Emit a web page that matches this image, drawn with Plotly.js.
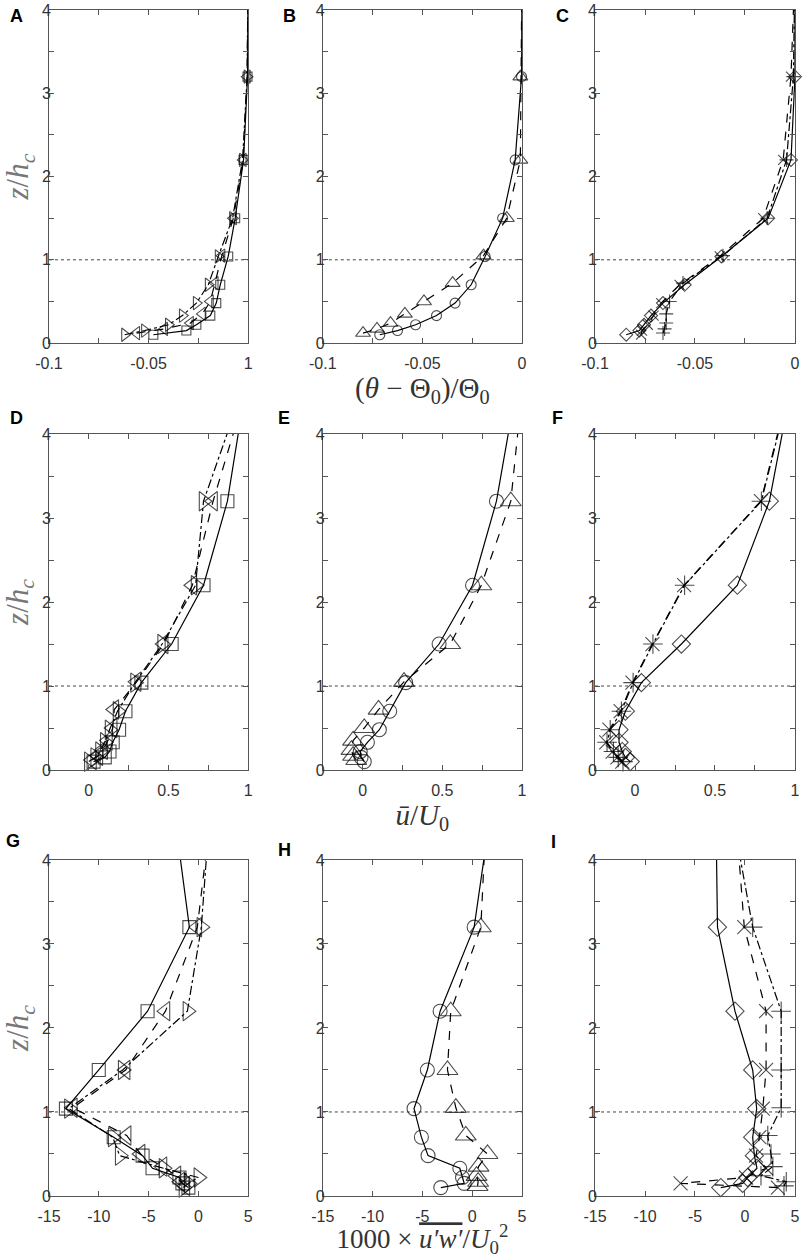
<!DOCTYPE html>
<html>
<head>
<meta charset="utf-8">
<script src="https://cdn.plot.ly/plotly-3.0.1.min.js"></script>
<style>
	html, body { margin: 0; padding: 0; background: #fff; }
	#chart { width: 803px; height: 1258px; }
</style>
</head>
<body>
<div id="chart"></div>
<script>
// sampling heights z/h_c (the last one lies above the plotted range, lines run off the top)
const zMain = [0.1, 0.15, 0.22, 0.33, 0.48, 0.7, 1.04, 1.5, 2.2, 3.2, 4.5]
const zAlt = [0.12, 0.17, 0.24, 0.35, 0.5, 0.72, 1.05, 1.5, 2.2, 3.2, 4.5]
const canopyTop = 1

// row 1 : (theta - Theta0)/Theta0
const thetaA_sq = [-0.0476, -0.031, -0.026, -0.019, -0.016, -0.014, -0.010, -0.0065, -0.0023, -0.0003, 0]
const thetaA_tl = [-0.056, -0.042, -0.029, -0.023, -0.019, -0.0166, -0.0132, -0.0074, -0.0025, -0.0005, 0]
const thetaA_tr = [-0.062, -0.052, -0.040, -0.033, -0.026, -0.020, -0.015, -0.0078, -0.0028, -0.0005, 0]
const thetaB_ci = [-0.0714, -0.0625, -0.0534, -0.0429, -0.0336, -0.0255, -0.0185, -0.0097, -0.0034, -0.0002, 0]
const thetaB_tu = [-0.0798, -0.0728, -0.066, -0.0588, -0.0492, -0.0348, -0.0193, -0.0076, -0.0008, -0.0008, 0]
const thetaC_di = [-0.0844, -0.0778, -0.0755, -0.072, -0.066, -0.0552, -0.0368, -0.0134, -0.002, 0, 0]
const thetaC_x = [-0.077, -0.0765, -0.0736, -0.0707, -0.0669, -0.0577, -0.0376, -0.0159, -0.0059, -0.002, 0]
const thetaC_pl = [-0.066, -0.0652, -0.0644, -0.0644, -0.0627, -0.056, -0.036, -0.0139, -0.0042, -0.0008, 0]

// row 2 : u/U0
const uD_sq = [0.03, 0.10, 0.13, 0.15, 0.19, 0.23, 0.33, 0.52, 0.72, 0.87, 0.98]
const uD_tl = [0.02, 0.06, 0.09, 0.12, 0.15, 0.16, 0.30, 0.47, 0.65, 0.78, 0.985]
const uD_tr = [0.0, 0.04, 0.07, 0.10, 0.13, 0.18, 0.29, 0.46, 0.67, 0.72, 0.96]
const uE_ci = [0.01, -0.01, -0.015, 0.03, 0.105, 0.17, 0.27, 0.48, 0.69, 0.84, 0.96]
const uE_tu = [-0.04, -0.06, -0.07, -0.06, 0.01, 0.10, 0.26, 0.55, 0.745, 0.93, 1.0]
const uF_di = [-0.03, -0.06, -0.08, -0.10, -0.10, -0.06, 0.04, 0.29, 0.64, 0.84, 0.97]
const uF_x = [-0.08, -0.11, -0.14, -0.18, -0.16, -0.09, -0.016, 0.109, 0.307, 0.787, 0.956]
const uF_pl = [-0.075, -0.105, -0.135, -0.175, -0.155, -0.085, -0.012, 0.112, 0.31, 0.79, 0.96]

// row 3 : 1000 u'w'/U0^2
const uwG_sq = [-1.0, -1.6, -1.9, -4.6, -5.6, -8.5, -13.3, -10.0, -5.1, -0.9, -2.35]
const uwG_tl = [-1.3, -1.8, -2.2, -3.6, -5.8, -7.2, -12.6, -7.3, -3.3, -0.1, 1.2]
const uwG_tr = [-1.5, -1.0, 0.0, -3.5, -7.9, -8.6, -13.0, -7.6, -1.1, 0.3, 1.1]
const uwH_ci = [-3.15, -0.8, -0.97, -1.24, -4.43, -5.1, -5.84, -4.5, -3.22, 0.2, 1.77]
const uwH_tu = [0.54, 0.6, 0.44, 0.64, 1.54, -0.64, -1.64, -2.48, -2.15, 0.87, 1.4]
const uwI_di = [-2.42, -0.23, 0.27, 1.2, 0.94, 0.77, 1.17, 0.77, -1.0, -2.75, -2.9]
const uwI_x = [3.29, -6.44, 0.1, 2.11, 1.1, 1.44, 1.78, 2.11, 2.11, -0.07, -0.9]
const uwI_pl = [3.9, 4.13, 1.6, 2.79, 2.6, 2.28, 3.62, 3.62, 3.62, 0.77, -1.2]

// axis ticks
const zTicks = [0, 1, 2, 3, 4]
const zMinor = [0.5, 1.5, 2.5, 3.5]
const thetaTicks = [-0.1, -0.05, 0]
const thetaTextA = ['-0.1', '-0.05', '1']
const thetaText = ['-0.1', '-0.05', '0']
const thetaMinor = [-0.075, -0.025]
const uTicks = [0, 0.5, 1]
const uText = ['0', '0.5', '1']
const uMinor = [0.25, 0.75]
const uwTicks = [-15, -10, -5, 0, 5]
const uwText = ['-15', '-10', '-5', '0', '5']

const letters = ['A', 'B', 'C', 'D', 'E', 'F', 'G', 'H', 'I']


const colDomains = [[0.061, 0.309], [0.402, 0.650], [0.741, 0.990]]
const rowDomains = [[0.7273, 0.9920], [0.3879, 0.6550], [0.0493, 0.3164]]
const letterPos = [
	[0.021, 0.987], [0.361, 0.987], [0.701, 0.987],
	[0.021, 0.668], [0.354, 0.668], [0.694, 0.668],
	[0.016, 0.3315], [0.354, 0.3243], [0.689, 0.3307]
]

// triangles draw smaller than the other open symbols in plotly
const symbolScale = { 'triangle-left-open': 1.3, 'triangle-right-open': 1.3, 'triangle-up-open': 1.3 }

const panels = [
	{ x: [-0.1, 0], ticks: thetaTicks, text: thetaTextA, minor: thetaMinor, size: 9,
		series: [[thetaA_sq, zMain, 'square-open', 'solid'], [thetaA_tl, zAlt, 'triangle-left-open', 'dash'], [thetaA_tr, zMain, 'triangle-right-open', 'dashdot']] },
	{ x: [-0.1, 0], ticks: thetaTicks, text: thetaText, minor: thetaMinor, size: 10,
		series: [[thetaB_ci, zMain, 'circle-open', 'solid'], [thetaB_tu, zAlt, 'triangle-up-open', 'dash']] },
	{ x: [-0.1, 0], ticks: thetaTicks, text: thetaText, minor: thetaMinor, size: 10,
		series: [[thetaC_di, zMain, 'diamond-open', 'solid'], [thetaC_x, zMain, 'x-thin-open', 'dash'], [thetaC_pl, zAlt, 'cross-thin-open', 'dashdot']] },
	{ x: [-0.25, 1], ticks: uTicks, text: uText, minor: uMinor, size: 13,
		series: [[uD_sq, zMain, 'square-open', 'solid'], [uD_tl, zAlt, 'triangle-left-open', 'dash'], [uD_tr, zMain, 'triangle-right-open', 'dashdot']] },
	{ x: [-0.25, 1], ticks: uTicks, text: uText, minor: uMinor, size: 14,
		series: [[uE_ci, zMain, 'circle-open', 'solid'], [uE_tu, zAlt, 'triangle-up-open', 'dash']] },
	{ x: [-0.25, 1], ticks: uTicks, text: uText, minor: uMinor, size: 14,
		series: [[uF_di, zMain, 'diamond-open', 'solid'], [uF_x, zMain, 'x-thin-open', 'dash'], [uF_pl, zMain, 'cross-thin-open', 'dashdot']] },
	{ x: [-15, 5], ticks: uwTicks, text: uwText, minor: [], size: 13,
		series: [[uwG_sq, zMain, 'square-open', 'solid'], [uwG_tl, zAlt, 'triangle-left-open', 'dash'], [uwG_tr, zMain, 'triangle-right-open', 'dashdot']] },
	{ x: [-15, 5], ticks: uwTicks, text: uwText, minor: [], size: 14,
		series: [[uwH_ci, zMain, 'circle-open', 'solid'], [uwH_tu, zAlt, 'triangle-up-open', 'dash']] },
	{ x: [-15, 5], ticks: uwTicks, text: uwText, minor: [], size: 14,
		series: [[uwI_di, zMain, 'diamond-open', 'solid'], [uwI_x, zMain, 'x-thin-open', 'dash'], [uwI_pl, zAlt, 'cross-thin-open', 'dashdot']] }
]

const xTitles = {
	1: { text: '(<i>θ</i> − Θ<sub>0</sub>)/Θ<sub>0</sub>', size: 29, standoff: 2 },
	4: { text: '<i>ū</i>/<i>U</i><sub>0</sub>', size: 29, standoff: 2 },
	7: { text: '1000 × <span style="text-decoration:overline"><i>u′w′</i></span>/<i>U</i><sub>0</sub><sup>2</sup>', size: 27, standoff: 9 }
}
const yTitle = '<i>z</i>/<i>h</i><sub><i>c</i></sub>'

const frameColor = '#555'
const tickFont = { family: 'Liberation Sans, Arial, sans-serif', size: 16, color: '#333' }
const mathFamily = 'Liberation Serif, Times New Roman, serif'


const data = []
const layout = {
	width: 803,
	height: 1258,
	margin: { l: 0, r: 0, t: 0, b: 0 },
	paper_bgcolor: '#fff',
	plot_bgcolor: '#fff',
	showlegend: false,
	shapes: [],
	annotations: []
}

panels.forEach((p, i) => {
	const n = i === 0 ? '' : String(i + 1)
	const row = Math.floor(i / 3)
	const col = i % 3

	p.series.forEach(([xs, zs, symbol, dash]) => {
		const s = p.size * (symbolScale[symbol] || 1)
		data.push({
			type: 'scatter',
			mode: 'lines+markers',
			x: xs,
			y: zs,
			xaxis: 'x' + n,
			yaxis: 'y' + n,
			cliponaxis: false,
			line: { color: '#000', width: 1.2, dash: dash },
			marker: {
				symbol: symbol,
				size: zs.map(z => (z > 4 ? 0 : s)),
				color: '#000',
				line: { color: '#000', width: 1.1 }
			},
			hoverinfo: 'skip'
		})
	})

	const xa = {
		domain: colDomains[col],
		anchor: 'y' + n,
		range: p.x,
		tickmode: 'array',
		tickvals: p.ticks,
		ticktext: p.text,
		ticks: 'inside',
		ticklen: 5,
		tickwidth: 1,
		tickcolor: frameColor,
		ticklabelstandoff: 6,
		ticklabeloverflow: 'allow',
		showline: true,
		linecolor: frameColor,
		linewidth: 1,
		mirror: 'ticks',
		showgrid: false,
		zeroline: false,
		tickfont: tickFont,
		minor: { tickmode: 'array', tickvals: p.minor, ticks: 'inside', ticklen: 5, tickwidth: 1, tickcolor: frameColor, showgrid: false }
	}
	const xt = xTitles[i]
	if (xt) xa.title = { text: xt.text, font: { family: mathFamily, size: xt.size, color: '#333' }, standoff: xt.standoff }

	const ya = {
		domain: rowDomains[row],
		anchor: 'x' + n,
		range: [0, 4],
		tickmode: 'array',
		tickvals: zTicks,
		ticktext: zTicks.map(String),
		ticks: 'inside',
		ticklen: 5,
		tickwidth: 1,
		tickcolor: frameColor,
		ticklabelstandoff: -6,
		ticklabeloverflow: 'allow',
		showline: true,
		linecolor: frameColor,
		linewidth: 1,
		mirror: 'ticks',
		showgrid: false,
		zeroline: false,
		tickfont: tickFont,
		minor: { tickmode: 'array', tickvals: zMinor, ticks: 'inside', ticklen: 5, tickwidth: 1, tickcolor: frameColor, showgrid: false }
	}
	if (col === 0) ya.title = { text: yTitle, font: { family: mathFamily, size: 31, color: '#777' }, standoff: 8 }

	layout['xaxis' + n] = xa
	layout['yaxis' + n] = ya

	layout.shapes.push({
		type: 'line',
		xref: 'x' + n + ' domain',
		x0: 0,
		x1: 1,
		yref: 'y' + n,
		y0: canopyTop,
		y1: canopyTop,
		layer: 'below',
		line: { color: '#444', width: 1, dash: 'dot' }
	})

	layout.annotations.push({
		text: '<b>' + letters[i] + '</b>',
		xref: 'paper',
		yref: 'paper',
		x: letterPos[i][0],
		y: letterPos[i][1],
		xanchor: 'center',
		yanchor: 'middle',
		showarrow: false,
		font: { family: 'Liberation Sans, Arial, sans-serif', size: 18, color: '#000' }
	})
})

Plotly.newPlot('chart', data, layout, { displayModeBar: false, staticPlot: true })
</script>
</body>
</html>
